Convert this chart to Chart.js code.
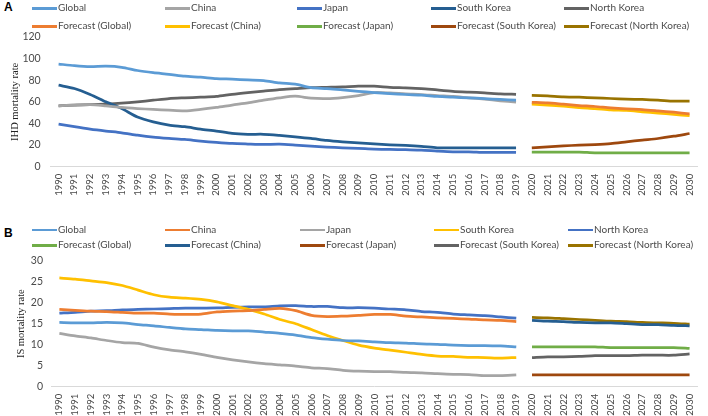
<!DOCTYPE html>
<html>
<head>
<meta charset="utf-8">
<script src="https://cdn.jsdelivr.net/npm/chart.js@4.4.1/dist/chart.umd.min.js"></script>
<style>
  body { margin: 0; width: 708px; height: 416px; position: relative; background: #fff; overflow: hidden; font-family: Lato, "Liberation Sans", sans-serif; }
  .panel { position: absolute; left: 0; width: 708px; }
  .tag { position: absolute; left: 4px; font: bold 12px "Liberation Sans", Arial, sans-serif; color: #000; }
  .leg { position: absolute; font-size: 10px; line-height: 12px; color: #4a4a4a; white-space: nowrap; }
  .leg i { display: inline-block; width: 25px; height: 2.5px; vertical-align: middle; margin-right: 1px; margin-top: -1px; }
</style>
</head>
<body>
<div class="tag" style="top:0px">A</div>
<div class="tag" style="top:226px">B</div>
<div class="panel" style="top:0;height:200px"><canvas id="chartA" width="708" height="200"></canvas></div>
<div class="panel" style="top:200px;height:216px"><canvas id="chartB" width="708" height="216"></canvas></div>

<script>
const years = [1990,1991,1992,1993,1994,1995,1996,1997,1998,1999,2000,2001,2002,2003,2004,2005,2006,2007,2008,2009,
  2010,2011,2012,2013,2014,2015,2016,2017,2018,2019,2020,2021,2022,2023,2024,2025,2026,2027,2028,2029,2030];

// panel A - IHD, 1990-2019
const ihdGlobal = [95, 93.5, 92.6, 93, 92, 89, 87, 85.5, 83.7, 82.8, 81.5, 81, 80.3, 79.7, 77.5, 76.3, 73.2, 72.3, 71, 69.8, 68.6, 67.7, 66.8, 66.2, 65, 64.3, 63.7, 63, 62.2, 61.5];
const ihdChina = [56.3, 57, 57.5, 56.3, 54.8, 53.8, 53, 52.3, 51.7, 53, 54.8, 57, 59, 61.5, 63.7, 65.2, 63.4, 63, 64, 65.8, 68.6, 68.3, 67.4, 66.8, 65.8, 65, 63.7, 62.5, 61, 59.7];
const ihdJapan = [39.4, 37, 34.8, 33, 31.4, 29.2, 27.4, 26.2, 25.2, 23.7, 22.5, 21.5, 21, 20.6, 20.8, 20, 19, 18.2, 17.5, 17, 16.3, 16, 15.7, 15.4, 14.5, 13.8, 13.8, 13.2, 13.2, 13.2];
const ihdSouthKorea = [75.4, 72.3, 66.8, 60, 53.8, 46, 41.5, 38.5, 37, 34.8, 33, 30.8, 30, 30, 29, 27.7, 26.2, 24.3, 23, 22, 21.2, 20.3, 19.7, 18.8, 17.5, 17.5, 17.5, 17.5, 17.5, 17.5];
const ihdNorthKorea = [56.3, 57, 57.5, 58, 58.8, 60, 61.5, 63, 63.7, 64.3, 65, 67, 68.6, 70, 71.4, 72.3, 73.2, 73.5, 73.8, 74.5, 74.5, 73.5, 73, 72.3, 71, 69.8, 69, 68.3, 67.4, 67];
// panel A forecasts, 2020-2030
const ihdFcGlobal = [59.6, 59, 57.8, 56.6, 55.7, 54.4, 53.5, 52.9, 51.7, 50.4, 48.9];
const ihdFcChina = [57.8, 56.9, 56, 54.7, 53.8, 52.6, 52, 50.8, 49.6, 48.4, 47.2];
const ihdFcJapan = [13.5, 13.5, 13.5, 13.5, 12.9, 12.9, 12.9, 12.9, 12.9, 12.9, 12.9];
const ihdFcSouthKorea = [17.5, 18.4, 19.3, 19.9, 20.5, 21.4, 23, 24.6, 26.1, 28.2, 30.7];
const ihdFcNorthKorea = [66.1, 65.5, 64.6, 64.3, 63.7, 63.1, 62.5, 62.2, 61.6, 60.7, 60.7];

// panel B - IS, 1990-2019
const isGlobal = [15.3, 15.2, 15.2, 15.3, 15.2, 14.8, 14.5, 14.1, 13.75, 13.6, 13.4, 13.3, 13.3, 13, 12.7, 12.3, 11.7, 11.3, 11, 10.9, 10.7, 10.5, 10.4, 10.2, 10.1, 9.9, 9.8, 9.8, 9.7, 9.5];
const isChina = [18.4, 18.2, 18, 17.9, 17.7, 17.5, 17.5, 17.3, 17.2, 17.3, 17.8, 18, 18.1, 18.4, 18.65, 18.1, 17, 16.7, 16.8, 17, 17.2, 17.2, 16.8, 16.6, 16.4, 16.25, 16.1, 15.9, 15.8, 15.5];
const isJapan = [12.7, 12.1, 11.6, 11, 10.5, 10.3, 9.4, 8.75, 8.3, 7.7, 7, 6.4, 5.9, 5.5, 5.2, 4.9, 4.5, 4.3, 3.9, 3.7, 3.6, 3.6, 3.4, 3.3, 3.1, 2.95, 2.9, 2.65, 2.65, 2.8];
const isSouthKorea = [25.9, 25.6, 25.2, 24.8, 24.1, 23, 21.9, 21.3, 21.1, 20.8, 20.2, 19.3, 18.4, 17.3, 16, 15, 13.6, 12.2, 11, 9.9, 9.2, 8.7, 8.2, 7.7, 7.3, 7.2, 7, 6.95, 6.8, 6.95];
const isNorthKorea = [17.5, 17.7, 18, 18.1, 18.3, 18.4, 18.5, 18.6, 18.7, 18.7, 18.75, 18.9, 19, 19, 19.25, 19.3, 19.1, 19.1, 18.8, 18.8, 18.7, 18.5, 18.3, 17.9, 17.7, 17.3, 17.1, 16.9, 16.6, 16.3];
// panel B forecasts, 2020-2030
const isFcGlobal = [9.5, 9.5, 9.5, 9.5, 9.5, 9.3, 9.3, 9.3, 9.3, 9.3, 9.1];
const isFcChina = [15.8, 15.6, 15.5, 15.3, 15.2, 15.2, 15, 14.8, 14.8, 14.6, 14.5];
const isFcJapan = [2.8, 2.8, 2.8, 2.8, 2.8, 2.8, 2.8, 2.8, 2.8, 2.8, 2.8];
const isFcSouthKorea = [6.9, 7.1, 7.1, 7.2, 7.4, 7.4, 7.4, 7.5, 7.5, 7.5, 7.8];
const isFcNorthKorea = [16.5, 16.4, 16.2, 16, 15.8, 15.6, 15.5, 15.3, 15.2, 15.1, 14.9];

const seriesNames = ["Global", "China", "Japan", "South Korea", "North Korea",
  "Forecast (Global)", "Forecast (China)", "Forecast (Japan)", "Forecast (South Korea)", "Forecast (North Korea)"];

const colorsA = ["#5b9bd5", "#a5a5a5", "#4472c4", "#255e91", "#636363", "#ed7d31", "#ffc000", "#70ad47", "#9e480e", "#997300"];
const colorsB = ["#5b9bd5", "#ed7d31", "#a5a5a5", "#ffc000", "#4472c4", "#70ad47", "#255e91", "#9e480e", "#636363", "#997300"];

const hist = arr => arr.concat(Array(11).fill(null));
const fcst = arr => Array(30).fill(null).concat(arr);

function makeDatasets(histArrs, fcArrs, colors) {
  const all = histArrs.map(hist).concat(fcArrs.map(fcst));
  return all.map((d, i) => ({
    label: seriesNames[i],
    data: d,
    borderColor: colors[i],
    backgroundColor: colors[i],
    borderWidth: 2.75,
    pointRadius: 0,
    tension: 0.25,
    spanGaps: false
  }));
}

function legend(top, rows, cols, colors) {
  seriesNames.forEach((name, i) => {
    const el = document.createElement("div");
    el.className = "leg";
    el.style.left = cols[i % 5] + "px";
    el.style.top = (top + rows[Math.floor(i / 5)] - 6) + "px";
    el.innerHTML = '<i style="background:' + colors[i] + '"></i>' + name;
    document.body.appendChild(el);
  });
}

function makeChart(id, datasets, cfg) {
  return new Chart(document.getElementById(id), {
    type: "line",
    data: { labels: years, datasets: datasets },
    options: {
      responsive: false,
      animation: false,
      layout: { padding: { top: cfg.top, right: 3.3, left: 0, bottom: 0 } },
      plugins: { legend: { display: false }, tooltip: { enabled: false } },
      scales: {
        x: {
          offset: true,
          grid: { display: false, drawTicks: false },
          border: { display: true, color: "#d9d9d9", width: 1 },
          ticks: { autoSkip: false, minRotation: 90, maxRotation: 90, padding: 7, color: "#4a4a4a", font: { family: "Lato", size: 9.5 } },
          afterFit: s => { s.height = cfg.xh; }
        },
        y: {
          min: 0, max: cfg.max,
          grid: { display: false, drawTicks: false },
          border: { display: false },
          ticks: { stepSize: cfg.step, padding: cfg.tickPad, color: "#4a4a4a", font: { family: "Lato", size: 10.5 } },
          title: { display: true, text: cfg.title, color: "#222", padding: { top: cfg.titlePad, bottom: 0 },
                   font: { family: "Liberation Serif", size: 10.5 } },
          afterFit: s => { s.width = cfg.yw; }
        }
      }
    }
  });
}

makeChart("chartA",
  makeDatasets([ihdGlobal, ihdChina, ihdJapan, ihdSouthKorea, ihdNorthKorea],
               [ihdFcGlobal, ihdFcChina, ihdFcJapan, ihdFcSouthKorea, ihdFcNorthKorea], colorsA),
  { top: 37, xh: 33.3, yw: 50.7, max: 120, step: 20, tickPad: 10, title: "IHD mortality rate", titlePad: 9 });

makeChart("chartB",
  makeDatasets([isGlobal, isChina, isJapan, isSouthKorea, isNorthKorea],
               [isFcGlobal, isFcChina, isFcJapan, isFcSouthKorea, isFcNorthKorea], colorsB),
  { top: 60.7, xh: 29.3, yw: 51.5, max: 30, step: 5, tickPad: 8.5, title: "IS mortality rate", titlePad: 15 });

legend(0, [7.3, 25.3], [32, 165, 297, 431, 564], colorsA);
legend(0, [229, 244.3], [32, 165, 300, 434, 568], colorsB);
</script>
</body>
</html>
